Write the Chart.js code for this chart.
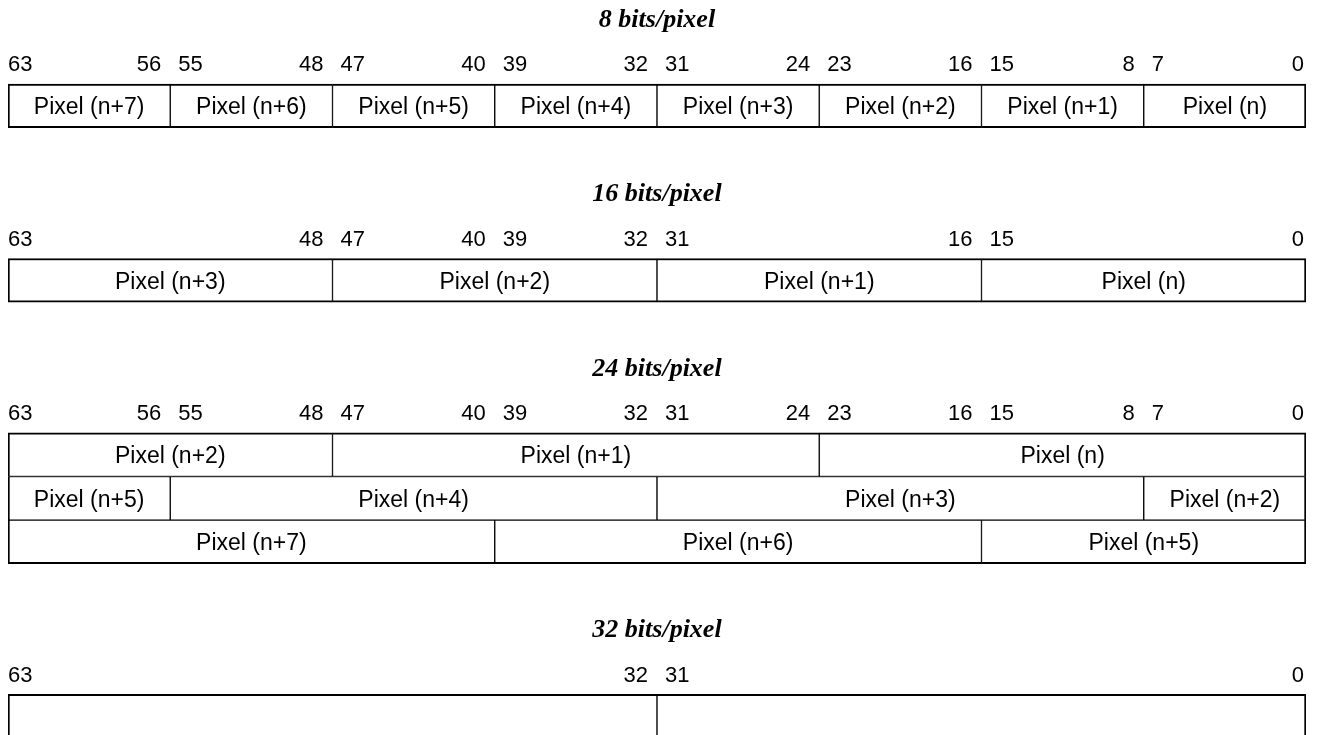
<!DOCTYPE html>
<html>
<head>
<meta charset="utf-8">
<title>Pixel packing</title>
<script src="https://cdn.jsdelivr.net/npm/chart.js@4.4.1/dist/chart.umd.min.js"></script>
<style>
  html, body { margin: 0; padding: 0; background: #fff; overflow: hidden; }
  #wrap { position: absolute; left: 0; top: -3px; width: 1321px; height: 741px; }
</style>
</head>
<body>
<div id="wrap"><canvas id="chart"></canvas></div>
<script>
// layout lines, top to bottom: title, bit numbers, field rows, blank line
const rows = ['t8', 'b8', 'f8', 'g1',
              't16', 'b16', 'f16', 'g2',
              't24', 'b24', 'f24a', 'f24b', 'f24c', 'g3',
              't32', 'b32', 'f32'];

const titleRows = ['t8', 't16', 't24', 't32'];
const titleText = ['8 bits/pixel', '16 bits/pixel', '24 bits/pixel', '32 bits/pixel'];

const bitRows = ['b8', 'b16', 'b24', 'b32'];
const bits8  = [63, 56, 55, 48, 47, 40, 39, 32, 31, 24, 23, 16, 15, 8, 7, 0];
const bits16 = [63, 48, 47, 40, 39, 32, 31, 16, 15, 0];
const bits24 = [63, 56, 55, 48, 47, 40, 39, 32, 31, 24, 23, 16, 15, 8, 7, 0];
const bits32 = [63, 32, 31, 0];
const bitNumbers = [bits8, bits16, bits24, bits32];

// fields: [msb, lsb, name]
const fields8 = [
  [63, 56, 'Pixel (n+7)'], [55, 48, 'Pixel (n+6)'], [47, 40, 'Pixel (n+5)'], [39, 32, 'Pixel (n+4)'],
  [31, 24, 'Pixel (n+3)'], [23, 16, 'Pixel (n+2)'], [15, 8, 'Pixel (n+1)'], [7, 0, 'Pixel (n)']
];
const fields16 = [
  [63, 48, 'Pixel (n+3)'], [47, 32, 'Pixel (n+2)'], [31, 16, 'Pixel (n+1)'], [15, 0, 'Pixel (n)']
];
const fields24a = [[63, 48, 'Pixel (n+2)'], [47, 24, 'Pixel (n+1)'], [23, 0, 'Pixel (n)']];
const fields24b = [[63, 56, 'Pixel (n+5)'], [55, 32, 'Pixel (n+4)'], [31, 8, 'Pixel (n+3)'], [7, 0, 'Pixel (n+2)']];
const fields24c = [[63, 40, 'Pixel (n+7)'], [39, 16, 'Pixel (n+6)'], [15, 0, 'Pixel (n+5)']];
const fields32 = [[63, 32, ''], [31, 0, '']];

const fieldRows = ['f8', 'f16', 'f24a', 'f24b', 'f24c', 'f32'];
const fieldSets = [fields8, fields16, fields24a, fields24b, fields24c, fields32];
const groupTop = ['f8', 'f16', 'f24a', 'f32'];
const groupBottom = ['f8', 'f16', 'f24c', 'f32'];

const sansFont = '"Liberation Sans", Arial, sans-serif';
const serifFont = '"Liberation Serif", "Times New Roman", serif';

// build bar data
const barData = [];
fieldRows.forEach((row, r) => {
  fieldSets[r].forEach(f => {
    barData.push({ y: row, x: [f[1], f[0] + 1], name: f[2], msb: f[0], lsb: f[1] });
  });
});

// thin shared dividers, heavier outline
function borderFor(ctx) {
  const d = ctx.raw;
  if (!d) return 1;
  return {
    left: d.msb === 63 ? 2 : 1,
    right: d.lsb === 0 ? 2 : 1,
    top: groupTop.includes(d.y) ? 2 : 1,
    bottom: groupBottom.includes(d.y) ? 2 : 1
  };
}

const diagramText = {
  id: 'diagramText',
  afterDatasetsDraw(chart) {
    const { ctx, scales: { x, y } } = chart;
    const meta = chart.getDatasetMeta(0);
    ctx.save();
    ctx.fillStyle = '#000';
    ctx.textBaseline = 'alphabetic';

    // field names inside the boxes
    ctx.font = '23px ' + sansFont;
    ctx.textAlign = 'center';
    meta.data.forEach((bar, i) => {
      const item = barData[i];
      if (!item.name) return;
      const c = bar.getCenterPoint();
      ctx.fillText(item.name, c.x, c.y + 8.5);
    });

    // titles
    ctx.font = 'italic bold 26px ' + serifFont;
    ctx.textAlign = 'center';
    titleRows.forEach((row, i) => {
      const py = y.getPixelForValue(rows.indexOf(row)) + 8;
      ctx.fillText(titleText[i], (chart.chartArea.left + chart.chartArea.right) / 2, py);
    });

    // bit numbers
    ctx.font = '22px ' + sansFont;
    bitRows.forEach((row, i) => {
      const py = y.getPixelForValue(rows.indexOf(row)) + 9;
      bitNumbers[i].forEach(b => {
        if (b % 8 === 7) {
          ctx.textAlign = 'left';
          ctx.fillText(String(b), x.getPixelForValue(b + 1) + (b === 63 ? 0 : 8), py);
        } else {
          ctx.textAlign = 'right';
          ctx.fillText(String(b), x.getPixelForValue(b) - (b === 0 ? 2 : 9), py);
        }
      });
    });
    ctx.restore();
  }
};

new Chart(document.getElementById('chart'), {
  type: 'bar',
  data: {
    labels: rows,
    datasets: [{
      data: barData,
      backgroundColor: '#ffffff',
      borderColor: '#000000',
      borderWidth: borderFor,
      borderSkipped: false,
      barPercentage: 1,
      categoryPercentage: 1
    }]
  },
  options: {
    indexAxis: 'y',
    responsive: true,
    maintainAspectRatio: false,
    animation: false,
    events: [],
    layout: { padding: { left: 8, right: 15, top: 0, bottom: 0 } },
    plugins: {
      legend: { display: false },
      tooltip: { enabled: false }
    },
    scales: {
      x: { type: 'linear', min: 0, max: 64, reverse: true, display: false },
      y: { type: 'category', display: false }
    }
  },
  plugins: [diagramText]
});
</script>
</body>
</html>
